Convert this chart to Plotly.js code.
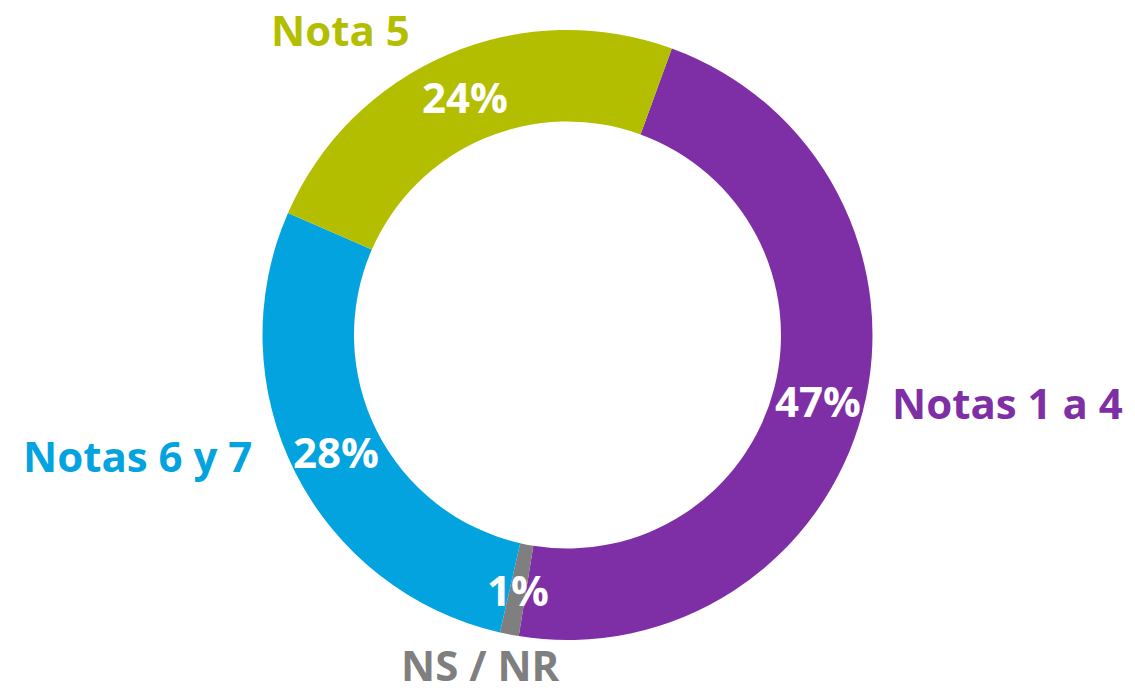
<!DOCTYPE html>
<html>
<head>
<meta charset="utf-8">
<script src="https://cdn.plot.ly/plotly-3.0.1.min.js"></script>
<style>
  html, body { margin: 0; padding: 0; background: #fff; }
  #chart { width: 1135px; height: 694px; }
</style>
</head>
<body>
<div id="chart"></div>
<script>
// Data
const categories = ["Notas 1 a 4", "NS / NR", "Notas 6 y 7", "Nota 5"];
const values = [47, 1, 28, 24];
const percentLabels = ["47%", "1%", "28%", "24%"];
const colors = ["#7F2FA5", "#7F7F7F", "#03A3DF", "#B4BE00"];

// Layout constants
const W = 1135, H = 694;
const M = { l: 0, r: 0, t: 30, b: 54 };
const plotW = W - M.l - M.r, plotH = H - M.t - M.b;
const R = Math.min(plotW, plotH) / 2;
const HOLE = 0.7;
const ROT = 20;
const cx = M.l + plotW / 2, cy = M.t + plotH / 2;
const FONT = "Open Sans, Liberation Sans, sans-serif";
const FS = 42;

function px2paper(x, y) {
  return { x: (x - M.l) / plotW, y: 1 - (y - M.t) / plotH };
}

// Percent labels placed at mid-angle, mid-ring (derived from data)
const total = values.reduce((a, b) => a + b, 0);
const annotations = [];
let cum = 0;
const rMid = R * (1 + HOLE) / 2;
values.forEach((v, i) => {
  const mid = (ROT + (cum + v / 2) / total * 360) * Math.PI / 180;
  cum += v;
  const p = px2paper(cx + rMid * Math.sin(mid), cy - rMid * Math.cos(mid));
  annotations.push({
    x: p.x, y: p.y, xref: "paper", yref: "paper",
    text: percentLabels[i], showarrow: false,
    xanchor: "center", yanchor: "middle",
    font: { family: FONT, size: FS, color: "#ffffff", weight: 700 }
  });
});

// Category name labels (outside)
const namePos = [
  { x: 1007, y: 402 },
  { x: 480, y: 664 },
  { x: 137, y: 455 },
  { x: 340, y: 29 }
];
categories.forEach((c, i) => {
  const p = px2paper(namePos[i].x, namePos[i].y);
  annotations.push({
    x: p.x, y: p.y, xref: "paper", yref: "paper",
    text: c, showarrow: false,
    xanchor: "center", yanchor: "middle",
    font: { family: FONT, size: FS, color: colors[i], weight: 700 }
  });
});

const trace = {
  type: "pie",
  labels: categories,
  values: values,
  hole: HOLE,
  sort: false,
  direction: "clockwise",
  rotation: ROT,
  marker: { colors: colors, line: { width: 0 } },
  textinfo: "none",
  hoverinfo: "label+percent",
  showlegend: false
};

const layout = {
  width: W, height: H,
  margin: M,
  paper_bgcolor: "#ffffff",
  plot_bgcolor: "#ffffff",
  showlegend: false,
  annotations: annotations
};

Plotly.newPlot("chart", [trace], layout, { displayModeBar: false, staticPlot: true });
</script>
</body>
</html>
